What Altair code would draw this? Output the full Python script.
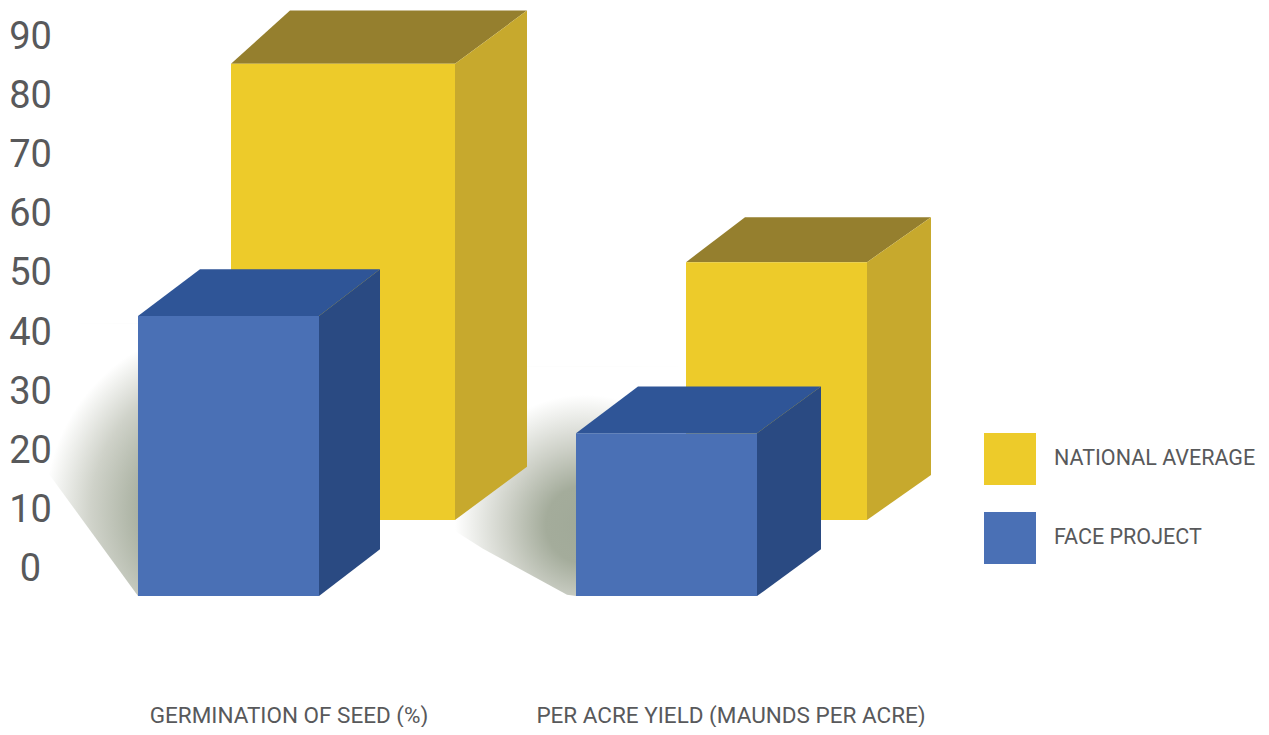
import altair as alt
import pandas as pd

# Values as read against the printed axis (top of each front face)
categories = ["GERMINATION OF SEED (%)", "PER ACRE YIELD (MAUNDS PER ACRE)"]
series = ["NATIONAL AVERAGE", "FACE PROJECT"]
national_average = [85.5, 52.0]
face_project = [42.9, 23.1]
y_ticks = [0, 10, 20, 30, 40, 50, 60, 70, 80, 90]

# Layout (x in layout units, bases / depth in axis units)
W, H = 1253, 719
UNIT = 5.92
Y_DOMAIN = [-26.52, 94.93]
FONT = "Roboto"
TEXT = "#58595b"
BASE = {"NATIONAL AVERAGE": 8.45, "FACE PROJECT": -4.4}
STYLE = {
    "NATIONAL AVERAGE": {"front": "#edcb2a", "top": "#957f2e", "side": "#c7a92d"},
    "FACE PROJECT": {"front": "#4a70b5", "top": "#2f5597", "side": "#2a4a82"},
}
# left, width, back-left shift, back-right shift, rise
GEOM = {
    ("NATIONAL AVERAGE", 0): (223, 224, 59, 72, 9.0),
    ("NATIONAL AVERAGE", 1): (678, 181, 59, 64, 7.6),
    ("FACE PROJECT", 0): (130, 181, 62, 61, 7.9),
    ("FACE PROJECT", 1): (568, 181, 62, 64, 7.9),
}
LABEL_X = [281, 723]
LABEL_Y = -24.6

x_scale = alt.Scale(domain=[0, W], range=[0, W], nice=False, zero=False)
y_scale = alt.Scale(domain=Y_DOMAIN, nice=False, zero=False)
y_axis = alt.Axis(
    values=y_ticks, title=None, domain=False, ticks=False, grid=False,
    orient="left", offset=-22, labelAlign="center", labelPadding=0,
    labelFont=FONT, labelFontSize=38, labelColor=TEXT,
    labelBaseline="middle", labelOverlap=False, labelFlush=False, zindex=1,
)
X = alt.X("x:Q", scale=x_scale, axis=None)
Y = alt.Y("y:Q", scale=y_scale, axis=y_axis)


def bar_layers(name, idx, value):
    left, width, dl, dr, rise = GEOM[(name, idx)]
    right = left + width
    base = BASE[name]
    st = STYLE[name]
    top = pd.DataFrame({
        "x": [left, left + dl, right, right + dr],
        "y": [value, value + rise, value + rise, value + rise],
        "y2": [value, value, value, value + rise],
    })
    side = pd.DataFrame({
        "x": [right, right + dr],
        "y": [value, value + rise],
        "y2": [base, base + rise],
    })
    front = pd.DataFrame({
        "x": [left], "x2": [right], "y": [value], "y2": [base], "series": [name],
    })
    return [
        alt.Chart(top).mark_area(orient="vertical", color=st["top"]).encode(x=X, y=Y, y2="y2:Q"),
        alt.Chart(side).mark_area(orient="vertical", color=st["side"]).encode(x=X, y=Y, y2="y2:Q"),
        alt.Chart(front).mark_rect().encode(
            x=X, x2="x2:Q", y=Y, y2="y2:Q",
            color=alt.Color(
                "series:N",
                scale=alt.Scale(domain=series, range=[STYLE[s]["front"] for s in series]),
                legend=alt.Legend(
                    title=None, orient="none", legendX=976, legendY=425,
                    symbolType="square", symbolSize=2704, symbolStrokeWidth=0,
                    symbolOpacity=1, rowPadding=27, labelFont=FONT, labelFontSize=21.5,
                    labelColor=TEXT, labelOffset=18, labelLimit=300,
                ),
            ),
        ),
    ]


def shadow_layer(xs, ys, y_top, fx, fy, r, stops):
    df = pd.DataFrame({"x": xs, "y": ys, "y2": [y_top] * len(xs)})
    grad = {
        "gradient": "radial", "x1": fx, "y1": fy, "r1": 0, "x2": fx, "y2": fy, "r2": r,
        "stops": [{"offset": o, "color": c} for o, c in stops],
    }
    return alt.Chart(df).mark_area(orient="vertical", color=grad).encode(x=X, y=Y, y2="y2:Q")


# Shadows sit behind the bars, running from the blue bars' left edge and base.
# The gradient boxes are square, so their radial fill stays circular.
b0 = BASE["FACE PROJECT"]
L0 = GEOM[("FACE PROJECT", 0)][0]
L1 = GEOM[("FACE PROJECT", 1)][0]
S0, S1 = 273, 230
STOPS0 = [(0, "#a0a998"), (0.45, "#a4ac9b"), (0.75, "#cfd2c9"), (1, "#ffffff")]
STOPS1 = [(0, "#a0a998"), (0.3, "#a4ac9b"), (0.6, "#cdd0c7"), (1, "#ffffff")]
layers = [
    shadow_layer([L0 - 92, L0, L0 - 92 + S0], [b0 + 21.3, b0, b0], b0 + S0 / UNIT, 0.674, 0.685, 0.678, STOPS0),
    shadow_layer([L1 - 121, L1 - 93, L1 - 9, L1, L1 - 121 + S1], [b0 + 11, b0 + 8, b0 + 0.2, b0, b0], b0 + S1 / UNIT, 0.565, 0.69, 0.565, STOPS1),
]
for i, v in enumerate(national_average):
    layers += bar_layers("NATIONAL AVERAGE", i, v)
for i, v in enumerate(face_project):
    layers += bar_layers("FACE PROJECT", i, v)

# category labels
label_df = pd.DataFrame({"x": LABEL_X, "y": [LABEL_Y] * 2, "label": categories})
layers.append(
    alt.Chart(label_df).mark_text(font=FONT, fontSize=22.5, color=TEXT, align="center", baseline="middle").encode(
        x=X, y=Y, text="label:N"
    )
)

chart = alt.layer(*layers).properties(
    width=W, height=H, padding=0, autosize=alt.AutoSizeParams(type="none"), background="white"
).configure_view(stroke=None)

chart.save("out.html", embed_options={"renderer": "svg", "actions": False})
